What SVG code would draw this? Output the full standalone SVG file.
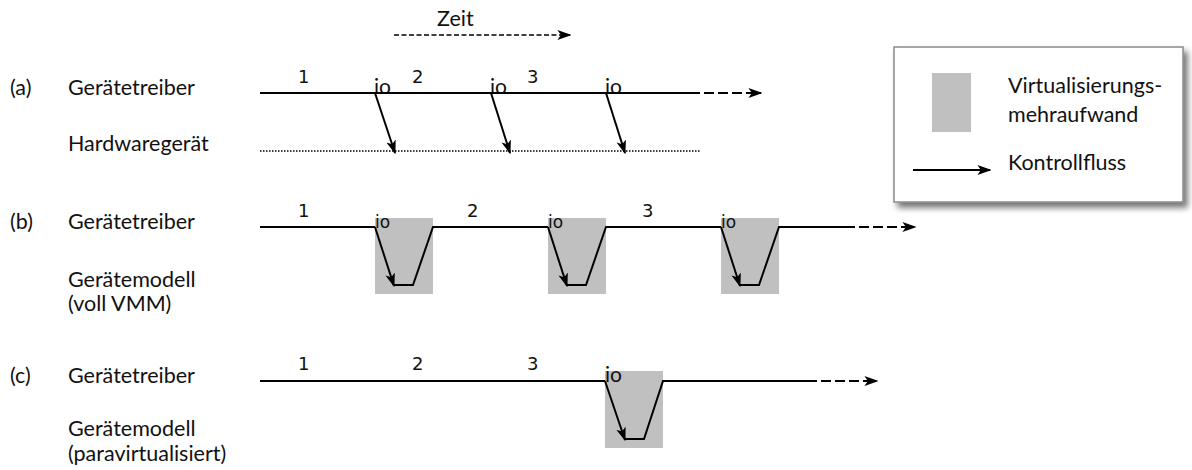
<svg xmlns="http://www.w3.org/2000/svg" width="1192" height="470" viewBox="0 0 1192 470">
  <style>
    .lbl { font-family: "Lato", "Open Sans", sans-serif; font-size: 21.5px; fill: #111; }
    .num { font-family: "DejaVu Sans", sans-serif; font-size: 18px; fill: #111; }
    .io  { font-family: "Lato", sans-serif; font-size: 21px; fill: #111; }
    .ios { font-family: "DejaVu Sans", sans-serif; font-size: 17px; fill: #111; }
    .flow { stroke: #000; stroke-width: 2; fill: none; }
    .dash { stroke: #000; stroke-width: 1.5; fill: none; stroke-dasharray: 5 2.5; }
    .tail { stroke: #000; stroke-width: 2; fill: none; stroke-dasharray: 10 4; }
    .dot  { stroke: #000; stroke-width: 1.5; fill: none; stroke-dasharray: 1.5 1.5; }
    .cost { fill: #c0c0c0; }
  </style>
  <defs>
    <marker id="head" viewBox="0 0 10 10" refX="9" refY="5" markerWidth="14" markerHeight="14" markerUnits="userSpaceOnUse" orient="auto">
      <path d="M0,1.5 L10,5 L0,8.5 L2.5,5 Z" fill="#000"/>
    </marker>
    <filter id="shadow" x="-10%" y="-10%" width="130%" height="140%">
      <feGaussianBlur in="SourceAlpha" stdDeviation="3"/>
      <feOffset dx="4" dy="5"/>
      <feComponentTransfer><feFuncA type="linear" slope="0.55"/></feComponentTransfer>
      <feMerge><feMergeNode/><feMergeNode in="SourceGraphic"/></feMerge>
    </filter>
  </defs>

  <!-- time axis -->
  <g id="zeit">
    <text class="lbl" x="437" y="26">Zeit</text>
    <line class="dash" x1="394" y1="35" x2="570" y2="35" marker-end="url(#head)"/>
  </g>

  <!-- legend -->
  <g id="legend">
    <rect x="894" y="47" width="289" height="155" fill="#fff" stroke="#8a8a8a" stroke-width="1.5" filter="url(#shadow)"/>
    <rect class="cost" x="932" y="73" width="39" height="59"/>
    <text class="lbl" x="1008" y="93">Virtualisierungs-</text>
    <text class="lbl" x="1008" y="122">mehraufwand</text>
    <line class="flow" x1="913" y1="170" x2="990" y2="170" stroke-width="1.5" marker-end="url(#head)"/>
    <text class="lbl" x="1008" y="170">Kontrollfluss</text>
  </g>

  <!-- row labels -->
  <g id="labels-a">
    <text class="lbl" x="10" y="95">(a)</text>
    <text class="lbl" x="68" y="95">Gerätetreiber</text>
    <text class="lbl" x="68" y="151">Hardwaregerät</text>
  </g>
  <g id="labels-b">
    <text class="lbl" x="10" y="229">(b)</text>
    <text class="lbl" x="68" y="229">Gerätetreiber</text>
    <text class="lbl" x="68" y="287">Gerätemodell</text>
    <text class="lbl" x="68" y="311">(voll VMM)</text>
  </g>
  <g id="labels-c">
    <text class="lbl" x="10" y="383">(c)</text>
    <text class="lbl" x="68" y="383">Gerätetreiber</text>
    <text class="lbl" x="68" y="436">Gerätemodell</text>
    <text class="lbl" x="68" y="461">(paravirtualisiert)</text>
  </g>

  <!-- overhead blocks -->
  <g id="overhead">
    <rect class="cost" x="375" y="218" width="58" height="76"/>
    <rect class="cost" x="548" y="218" width="58" height="76"/>
    <rect class="cost" x="721" y="218" width="58" height="76"/>
    <rect class="cost" x="605" y="371" width="58" height="77"/>
  </g>

  <!-- phase numbers and io marks -->
  <g id="marks">
    <text class="num" x="298" y="83">1</text>
    <text class="num" x="412" y="83">2</text>
    <text class="num" x="527" y="83">3</text>
    <text class="io" x="374" y="94">io</text>
    <text class="io" x="490" y="94">io</text>
    <text class="io" x="605" y="94">io</text>

    <text class="num" x="298" y="217">1</text>
    <text class="num" x="467" y="217">2</text>
    <text class="num" x="642" y="217">3</text>
    <text class="ios" x="375" y="228">io</text>
    <text class="ios" x="548" y="228">io</text>
    <text class="ios" x="721" y="228">io</text>

    <text class="num" x="298" y="370">1</text>
    <text class="num" x="412" y="370">2</text>
    <text class="num" x="527" y="370">3</text>
    <text class="io" x="605" y="382">io</text>
  </g>

  <!-- connectors -->
  <g id="connectors">
    <!-- (a) -->
    <line class="flow" x1="260" y1="93" x2="700" y2="93"/>
    <line class="tail" x1="704" y1="93" x2="761" y2="93" marker-end="url(#head)"/>
    <line class="dot" x1="260" y1="151" x2="700" y2="151"/>
    <line class="flow" x1="375" y1="93" x2="395" y2="153" stroke-width="1.5" marker-end="url(#head)"/>
    <line class="flow" x1="491" y1="93" x2="510" y2="153" stroke-width="1.5" marker-end="url(#head)"/>
    <line class="flow" x1="606" y1="93" x2="625" y2="153" stroke-width="1.5" marker-end="url(#head)"/>

    <!-- (b) -->
    <polyline class="flow" points="260,227 375,227"/>
    <line class="flow" x1="375" y1="227" x2="394" y2="286" stroke-width="1.5" marker-end="url(#head)"/>
    <polyline class="flow" points="394,285 413,285 433,227 548,227"/>
    <line class="flow" x1="548" y1="227" x2="567" y2="286" stroke-width="1.5" marker-end="url(#head)"/>
    <polyline class="flow" points="567,285 586,285 606,227 721,227"/>
    <line class="flow" x1="721" y1="227" x2="740" y2="286" stroke-width="1.5" marker-end="url(#head)"/>
    <polyline class="flow" points="740,285 759,285 779,227 855,227"/>
    <line class="tail" x1="859" y1="227" x2="915" y2="227" marker-end="url(#head)"/>

    <!-- (c) -->
    <polyline class="flow" points="260,381 605,381"/>
    <line class="flow" x1="605" y1="381" x2="625" y2="440" stroke-width="1.5" marker-end="url(#head)"/>
    <polyline class="flow" points="625,439 644,439 663,381 817,381"/>
    <line class="tail" x1="821" y1="381" x2="877" y2="381" marker-end="url(#head)"/>
  </g>
</svg>
